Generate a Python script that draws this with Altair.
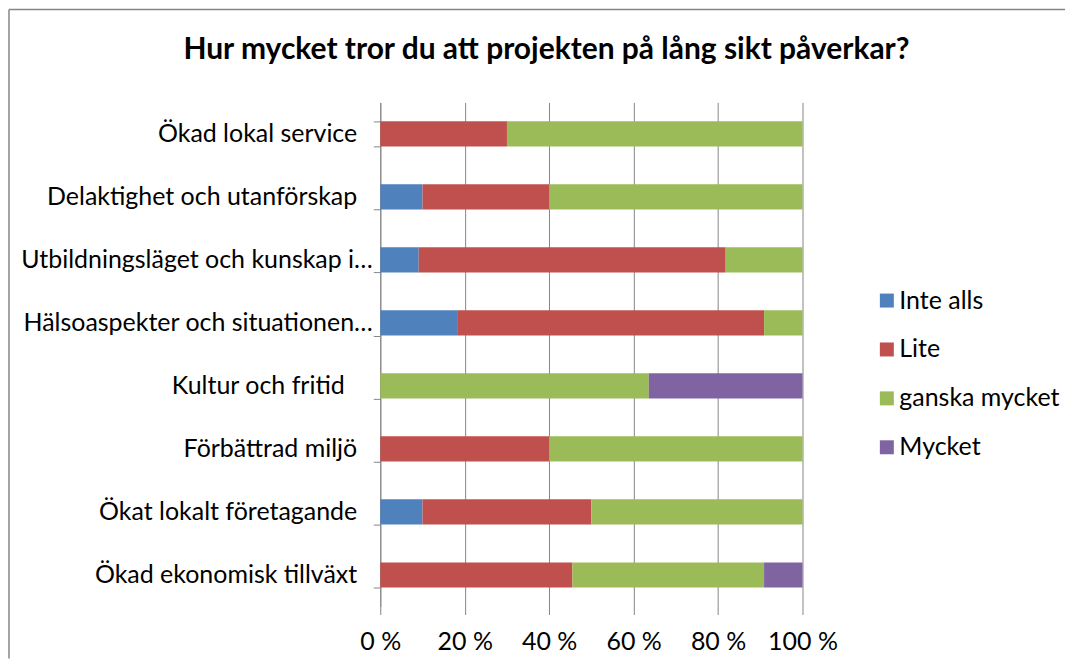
import altair as alt
import pandas as pd

categories = [
    "Ökad lokal service",
    "Delaktighet och utanförskap",
    "Utbildningsläget och kunskap i…",
    "Hälsoaspekter och situationen…",
    "Kultur och fritid ",
    "Förbättrad miljö",
    "Ökat lokalt företagande",
    "Ökad ekonomisk tillväxt",
]
series = ["Inte alls", "Lite", "ganska mycket", "Mycket"]
colors = ["#4F81BD", "#C0504D", "#9BBB59", "#8064A2"]

inte_alls = [0, 10, 9.1, 18.2, 0, 0, 10, 0]
lite = [30, 30, 72.7, 72.7, 0, 40, 40, 45.5]
ganska = [70, 60, 18.2, 9.1, 63.6, 60, 50, 45.4]
mycket = [0, 0, 0, 0, 36.4, 0, 0, 9.1]
x_ticks = [0, 20, 40, 60, 80, 100]

rows = []
for i, c in enumerate(categories):
    for j, (s, vals) in enumerate(zip(series, [inte_alls, lite, ganska, mycket])):
        rows.append({"kategori": c, "svar": s, "ordning": j, "andel": vals[i]})
df = pd.DataFrame(rows)

FONT = "Lato"
GRAY = "#868686"
FS = 25

# spacing (kept from collapsing by a word joiner) so untruncated labels sit further from the axis
PAD = "\u2002\u2009"
PAD_EXTRA = "\u2002"
WJ = "\u2060"
y_label_expr = (
    "indexof(datum.label, '…') >= 0 ? datum.label : "
    f"(test(/ $/, datum.label) ? trim(datum.label) + '{PAD}{PAD_EXTRA}{WJ}' : datum.label + '{PAD}{WJ}')"
)

bars = alt.Chart(df).mark_bar().encode(
    y=alt.Y(
        "kategori:N",
        sort=categories,
        title=None,
        scale=alt.Scale(paddingInner=0.6, paddingOuter=0.3),
        axis=alt.Axis(
            tickBand="extent",
            ticks=True,
            tickSize=7,
            tickColor=GRAY,
            domainColor=GRAY,
            labelFontSize=FS,
            labelFont=FONT,
            labelColor="black",
            labelPadding=1,
            labelLimit=500,
            labelExpr=y_label_expr,
            grid=False,
        ),
    ),
    x=alt.X(
        "andel:Q",
        stack="zero",
        title=None,
        scale=alt.Scale(domain=[0, 100], nice=False),
        axis=alt.Axis(
            values=x_ticks,
            labelExpr="datum.value + ' %'",
            labelOverlap=False,
            labelFlush=False,
            domain=False,
            ticks=True,
            tickSize=8,
            tickColor=GRAY,
            grid=True,
            gridColor=GRAY,
            labelFontSize=FS,
            labelFont=FONT,
            labelColor="black",
            labelPadding=15,
        ),
    ),
    color=alt.Color(
        "svar:N",
        sort=series,
        scale=alt.Scale(domain=series, range=colors),
        legend=alt.Legend(
            title=None,
            orient="none",
            legendX=495,
            legendY=186,
            symbolType="square",
            symbolSize=196,
            symbolStrokeWidth=0,
            labelFontSize=FS,
            labelFont=FONT,
            labelColor="black",
            labelOffset=0,
            labelLimit=400,
            rowPadding=23,
            padding=0,
        ),
    ),
    order=alt.Order("ordning:Q"),
)

frame_df = pd.DataFrame({"a": [0]})
left_line = alt.Chart(frame_df).mark_rule(color=GRAY, strokeWidth=1.5).encode(
    x=alt.value(-372), y=alt.value(-93), y2=alt.value(557)
)
top_line = alt.Chart(frame_df).mark_rule(color=GRAY, strokeWidth=1.5).encode(
    x=alt.value(-372), x2=alt.value(686), y=alt.value(-93)
)

chart = alt.layer(bars, left_line, top_line).properties(
    width=423,
    height=505,
    padding={"left": 0, "top": 0, "right": 0, "bottom": 0},
    title=alt.TitleParams(
        "Hur mycket tror du att projekten på lång sikt påverkar?",
        font=FONT,
        fontSize=30,
        fontWeight="bold",
        color="black",
        anchor="middle",
        dx=-45,
        offset=-56,
    ),
).configure_view(stroke=None)

chart.save("out.html", embed_options={"renderer": "svg", "actions": False})
